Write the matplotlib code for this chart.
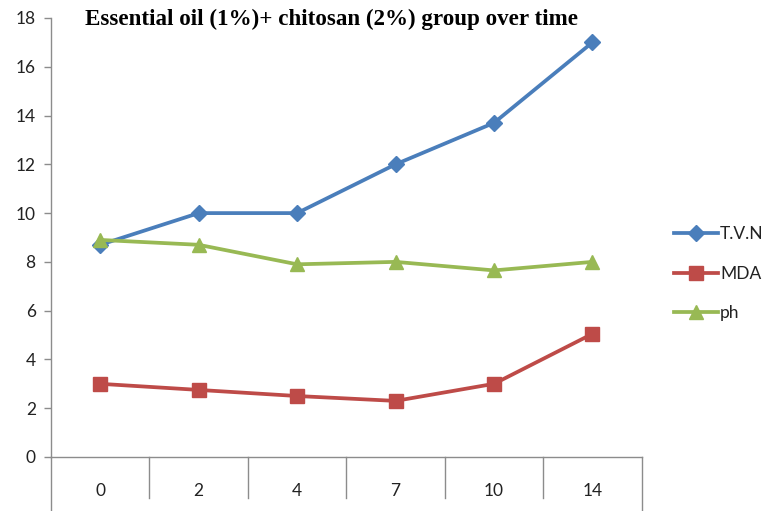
import matplotlib
matplotlib.use("Agg")
import matplotlib.pyplot as plt
from matplotlib.lines import Line2D

days = ["0", "2", "4", "7", "10", "14"]
tvn = [8.7, 10.0, 10.0, 12.0, 13.7, 17.0]
mda = [3.0, 2.75, 2.5, 2.3, 3.0, 5.05]
ph = [8.9, 8.7, 7.9, 8.0, 7.65, 8.0]
series_names = ["T.V.N", "MDA", "ph"]
title = "Essential oil (1%)+ chitosan (2%) group over time"

colors = ["#4A7EBB", "#BE4B48", "#98B954"]
markers = ["D", "s", "^"]
sizes = [8.5, 9.5, 9.5]
axis_grey = "#8C8C8C"
label_size = 12.5

fig = plt.figure(figsize=(7.66, 5.11), dpi=100)
ax = fig.add_axes([0.0666, 0.1057, 0.7711, 0.8591])

x = list(range(len(days)))
handles = []
for vals, name, c, m, s in zip([tvn, mda, ph], series_names, colors, markers, sizes):
    h, = ax.plot(x, vals, color=c, lw=2.7, marker=m, markersize=s,
                 markeredgecolor=c, label=name, clip_on=False, zorder=3)
    handles.append(h)

ax.set_xlim(-0.5, len(days) - 0.5)
ax.set_ylim(0, 18)
ax.set_yticks(range(0, 19, 2))
ax.tick_params(axis="y", direction="out", length=5, width=1, color=axis_grey,
               labelsize=label_size, pad=6, labelcolor="#222222")
ax.set_xticks(x)
ax.set_xticklabels(days)
ax.tick_params(axis="x", length=0, labelsize=label_size, pad=19, labelcolor="#222222")
for lbl in ax.get_xticklabels() + ax.get_yticklabels():
    lbl.set_fontfamily("Lato")

for side in ["top", "right"]:
    ax.spines[side].set_visible(False)
for side in ["left", "bottom"]:
    ax.spines[side].set_color(axis_grey)
    ax.spines[side].set_linewidth(1)

# category separators below the axis
trans = ax.get_xaxis_transform()
for b in [i + 0.5 for i in range(len(days) - 1)]:
    ax.add_line(Line2D([b, b], [0, -0.093], transform=trans, color=axis_grey,
                       lw=1, clip_on=False))
for b in [-0.5, len(days) - 0.5]:
    ax.add_line(Line2D([b, b], [0, -0.125], transform=trans, color=axis_grey,
                       lw=1, clip_on=False))

fig.text(0.433, 0.963, title, ha="center", va="center",
         fontfamily="Liberation Serif", fontweight="bold", fontsize=16.6)

leg = fig.legend(handles=handles, loc="upper left", bbox_to_anchor=(0.871, 0.571),
                 frameon=False, fontsize=label_size, handlelength=2.5, labelspacing=1.35,
                 handletextpad=0.15, borderaxespad=0)
for t in leg.get_texts():
    t.set_fontfamily("Lato")
    t.set_color("#222222")

fig.savefig("out.png", dpi=100)
